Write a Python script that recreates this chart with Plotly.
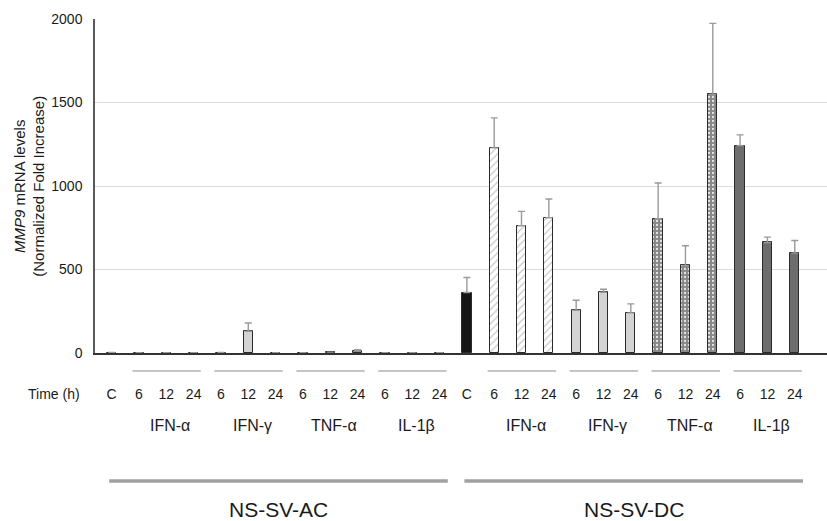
import plotly.graph_objects as go

# ---------------- data ----------------
cell_lines = ["NS-SV-AC", "NS-SV-DC"]
treatments = ["IFN-α", "IFN-γ", "TNF-α", "IL-1β"]
time_labels = ["C", "6", "12", "24", "6", "12", "24", "6", "12", "24", "6", "12", "24"]
bar_groups = ["C", "IFN-α", "IFN-α", "IFN-α", "IFN-γ", "IFN-γ", "IFN-γ",
              "TNF-α", "TNF-α", "TNF-α", "IL-1β", "IL-1β", "IL-1β"]
ac_values = [3, 2, 2, 2, 3, 130, 2, 2, 5, 15, 2, 2, 2]
ac_errors = [None, None, None, None, None, 50, None, None, None, 5, None, None, None]
dc_values = [362, 1228, 762, 810, 256, 364, 240, 804, 524, 1550, 1242, 662, 598]
dc_errors = [90, 180, 86, 112, 60, 18, 54, 214, 118, 424, 64, 32, 76]
y_ticks = [0, 500, 1000, 1500, 2000]

# ---------------- styles ----------------
styles = {
    "C": dict(color="#151515", pattern=dict(shape="")),
    "IFN-α": dict(color="white", pattern=dict(shape="/", bgcolor="white", fgcolor="#c4c4c4",
                                             size=5, solidity=0.22, fillmode="replace")),
    "IFN-γ": dict(color="#d3d3d3", pattern=dict(shape="")),
    "TNF-α": dict(color="#878787", pattern=dict(shape=".", bgcolor="#878787", fgcolor="#e6e6e6",
                                             size=4, solidity=0.25, fillmode="replace")),
    "IL-1β": dict(color="#6d6d6d", pattern=dict(shape="")),
}

n = len(time_labels)
values = ac_values + dc_values
errors = ac_errors + dc_errors
groups = bar_groups + bar_groups
xpos = list(range(2 * n))

fig = go.Figure()
for g in ["C"] + treatments:
    idx = [i for i in xpos if groups[i] == g]
    st = styles[g]
    fig.add_trace(go.Bar(
        x=[xpos[i] for i in idx],
        y=[values[i] for i in idx],
        width=0.34,
        marker=dict(color=st["color"], pattern=st["pattern"],
                    line=dict(color="#2a2a2a", width=1)),
        error_y=dict(type="data", symmetric=False,
                     array=[errors[i] for i in idx],
                     arrayminus=[0 for _ in idx],
                     color="#9a9a9a", thickness=1.4, width=3.5),
        showlegend=False,
        hoverinfo="skip",
    ))

font_family = "Liberation Sans, Arial, sans-serif"
txt = "#1a1a1a"

fig.update_layout(
    width=827, height=521,
    margin=dict(l=95, r=0, t=19, b=168, autoexpand=False),
    paper_bgcolor="white", plot_bgcolor="white",
    font=dict(family=font_family, size=14, color=txt),
    bargap=0,
)
fig.update_xaxes(
    range=[-0.61, 26.18], automargin=False,
    tickvals=xpos, ticktext=time_labels + time_labels,
    ticks="", showgrid=False, zeroline=False,
    showline=True, linecolor="#333333", linewidth=1.5,
    tickfont=dict(size=14, color=txt),
    ticklabelstandoff=27,
)
fig.update_yaxes(
    range=[0, 2000], tickvals=y_ticks, automargin=False,
    showgrid=True, gridcolor="#dcdcdc", gridwidth=1.2,
    zeroline=False, showline=True, linecolor="#5a5a5a", linewidth=1.5,
    ticks="", tickfont=dict(size=14, color=txt), ticklabelstandoff=8,
)

# y-axis title (two lines, first italic gene name)
fig.add_annotation(
    xref="paper", yref="paper", x=-0.0905, y=0.5,
    text="<i>MMP9</i> mRNA levels<br>(Normalized Fold Increase)",
    textangle=-90, showarrow=False, font=dict(size=15, color=txt),
    xanchor="center", yanchor="middle",
)

# "Time (h)" row label
fig.add_annotation(
    xref="paper", yref="paper", x=-0.0555, y=-0.1238,
    text="Time (h)", showarrow=False, font=dict(size=14, color=txt),
    xanchor="center", yanchor="middle",
)

# treatment group lines and labels
for c in range(len(cell_lines)):
    for t, name in enumerate(treatments):
        first = c * n + 1 + 3 * t
        last = first + 2
        fig.add_shape(type="line", xref="x", yref="paper",
                      x0=first - 0.24, x1=last + 0.26, y0=-0.054, y1=-0.054,
                      line=dict(color="#8c8c8c", width=1.1))
        fig.add_annotation(xref="x", yref="paper", x=first + 1.15, y=-0.2167,
                           text=name, showarrow=False,
                           font=dict(size=16, color=txt),
                           xanchor="center", yanchor="middle")
    # cell line bracket + label
    x0 = c * n - 0.09
    x1 = c * n + n - 1 + 0.3
    fig.add_shape(type="line", xref="x", yref="paper",
                  x0=x0, x1=x1, y0=-0.3836, y1=-0.3836,
                  line=dict(color="#a0a0a0", width=3.5))
    fig.add_annotation(xref="x", yref="paper", x=(x0 + x1) / 2, y=-0.468,
                       text=cell_lines[c], showarrow=False,
                       font=dict(size=21, color=txt),
                       xanchor="center", yanchor="middle", borderpad=0)

fig.write_html("out.html", config={"displayModeBar": False},
               post_script="document.body.style.margin='0';document.body.style.overflow='hidden';")
